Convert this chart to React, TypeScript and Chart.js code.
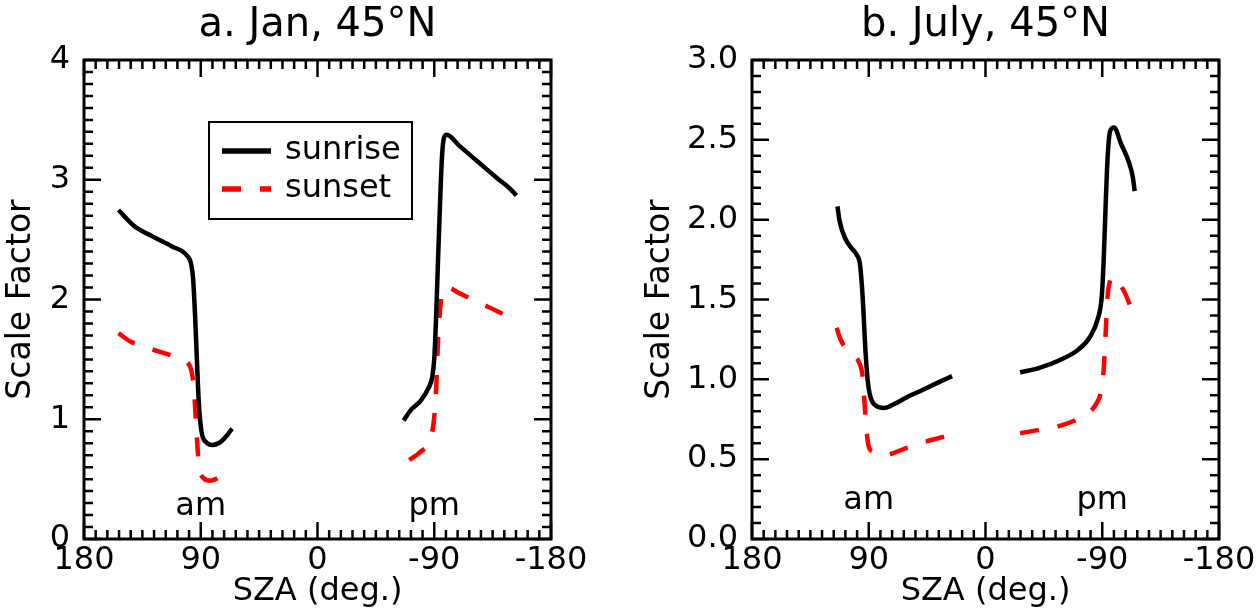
import React, { useEffect, useRef } from "react";
import { Chart, registerables } from "chart.js";

Chart.register(...registerables);

const FONT = "'DejaVu Sans', 'Liberation Sans', sans-serif";

// ---- tick labels ----
const xTickValues = [180, 90, 0, -90, -180];
const xTickLabels = ["180", "90", "0", "-90", "-180"];
const janYTickValues = [0, 1, 2, 3, 4];
const janYTickLabels = ["0", "1", "2", "3", "4"];
const julYTickValues = [0, 0.5, 1, 1.5, 2, 2.5, 3];
const julYTickLabels = ["0.0", "0.5", "1.0", "1.5", "2.0", "2.5", "3.0"];

// ---- a. Jan, 45°N ----
const janSunriseAmSza = [153.4, 141.6, 126.9, 112.1, 100.3, 97.4, 95.9, 94.4, 93.0, 91.5, 89.4, 85.6, 81.2, 75.3, 70.8, 65.8];
const janSunriseAmVal = [2.747, 2.616, 2.525, 2.443, 2.363, 2.297, 2.175, 1.871, 1.506, 1.141, 0.897, 0.806, 0.785, 0.806, 0.852, 0.922];
const janSunrisePmSza = [-66.4, -72.2, -79.6, -85.6, -88.5, -90.0, -91.5, -92.9, -94.4, -95.9, -97.4, -99.7, -109.2, -123.9, -138.7, -147.5, -153.4];
const janSunrisePmVal = [0.989, 1.080, 1.156, 1.262, 1.354, 1.506, 1.871, 2.327, 2.783, 3.179, 3.346, 3.376, 3.285, 3.148, 3.011, 2.935, 2.868];
const janSunsetAmSza = [153.4, 144.6, 126.9, 112.1, 100.3, 97.4, 95.3, 93.6, 91.5, 88.6, 82.6, 75.3, 66.4];
const janSunsetAmVal = [1.719, 1.652, 1.582, 1.530, 1.475, 1.414, 1.262, 0.958, 0.624, 0.517, 0.487, 0.517, 0.578];
const janSunsetPmSza = [-70.8, -79.6, -87.0, -90.0, -91.5, -92.9, -94.4, -96.7, -100.3, -109.2, -126.9, -141.6, -153.4];
const janSunsetPmVal = [0.660, 0.730, 0.837, 1.019, 1.262, 1.658, 1.901, 2.084, 2.099, 2.053, 1.962, 1.886, 1.810];

// ---- b. July, 45°N ----
const julSunriseAmSza = [114.1, 112.6, 108.1, 103.6, 99.2, 96.8, 94.7, 92.5, 90.8, 88.7, 84.2, 78.2, 70.7, 60.2, 48.2, 36.3, 25.8];
const julSunriseAmVal = [2.083, 1.996, 1.882, 1.825, 1.779, 1.722, 1.517, 1.175, 0.992, 0.890, 0.833, 0.821, 0.844, 0.890, 0.935, 0.981, 1.020];
const julSunrisePmSza = [-26.7, -41.6, -56.6, -71.6, -80.6, -86.6, -89.6, -91.1, -92.6, -94.1, -96.1, -99.1, -104.5, -110.5, -113.5, -115.0];
const julSunrisePmVal = [1.043, 1.072, 1.118, 1.186, 1.266, 1.380, 1.517, 1.745, 2.087, 2.384, 2.555, 2.578, 2.475, 2.361, 2.270, 2.179];
const julSunsetAmSza = [114.7, 112.6, 108.1, 102.1, 97.6, 94.7, 93.1, 91.6, 90.1, 87.1, 78.2, 63.2, 48.2, 36.3, 25.8];
const julSunsetAmVal = [1.323, 1.266, 1.198, 1.152, 1.107, 1.015, 0.833, 0.673, 0.582, 0.548, 0.525, 0.563, 0.605, 0.632, 0.655];
const julSunsetPmSza = [-26.7, -41.6, -56.6, -71.6, -80.6, -86.0, -89.0, -91.1, -92.6, -94.1, -96.1, -98.5, -101.5, -107.5, -112.0, -115.0];
const julSunsetPmVal = [0.662, 0.684, 0.707, 0.753, 0.798, 0.855, 0.924, 1.061, 1.289, 1.517, 1.620, 1.643, 1.620, 1.540, 1.449, 1.380];

const seriesNames = ["sunrise", "sunset"];
const amPmLabels = ["am", "pm"];
const amPmSza = [90, -90];

function joinSegments(aX: number[], aY: number[], bX: number[], bY: number[]) {
  const pts: { x: number; y: number | null }[] = [];
  aX.forEach((x, i) => pts.push({ x, y: aY[i] }));
  pts.push({ x: 0, y: null });
  bX.forEach((x, i) => pts.push({ x, y: bY[i] }));
  return pts;
}

const framePlugin = {
  id: "frameTicks",
  afterDatasetsDraw(chart: any, _args: any, opts: any) {
    const { ctx, chartArea: a, scales } = chart;
    const xs = scales.x;
    const ys = scales.y;
    ctx.save();
    ctx.strokeStyle = "#000";
    ctx.lineWidth = 2.5;
    ctx.beginPath();
    for (let i = 0; i <= 40; i++) {
      const v = -180 + i * 9;
      const px = xs.getPixelForValue(v);
      const len = v % 90 === 0 ? 17 : 9;
      ctx.moveTo(px, a.bottom);
      ctx.lineTo(px, a.bottom - len);
      ctx.moveTo(px, a.top);
      ctx.lineTo(px, a.top + len);
    }
    const yMax = opts.yMax as number;
    const major = opts.yMajor as number;
    const n = Math.round(yMax / 0.1);
    for (let i = 0; i <= n; i++) {
      const v = i * 0.1;
      const py = ys.getPixelForValue(v);
      const r = v / major;
      const len = Math.abs(r - Math.round(r)) < 1e-6 ? 17 : 9;
      ctx.moveTo(a.left, py);
      ctx.lineTo(a.left + len, py);
      ctx.moveTo(a.right, py);
      ctx.lineTo(a.right - len, py);
    }
    ctx.stroke();
    ctx.lineWidth = 3;
    ctx.strokeRect(a.left, a.top, a.width, a.height);

    // am / pm labels
    ctx.fillStyle = "#000";
    ctx.font = "32px " + FONT;
    ctx.textAlign = "center";
    ctx.textBaseline = "alphabetic";
    amPmLabels.forEach((t, i) => {
      ctx.fillText(t, xs.getPixelForValue(amPmSza[i]), ys.getPixelForValue(opts.amPmY));
    });

    // legend
    if (opts.legend) {
      const L = opts.legend;
      const bx = a.left + L.dx;
      const by = a.top + L.dy;
      ctx.lineWidth = 2;
      ctx.strokeRect(bx, by, L.w, L.h);
      chart.data.datasets.forEach((ds: any, i: number) => {
        const cy = by + 29 + i * 38;
        ctx.save();
        ctx.strokeStyle = ds.borderColor;
        ctx.lineWidth = 5.5;
        ctx.setLineDash(ds.borderDash || []);
        ctx.beginPath();
        ctx.moveTo(bx + 13, cy);
        ctx.lineTo(bx + 62, cy);
        ctx.stroke();
        ctx.restore();
        ctx.fillStyle = "#000";
        ctx.textAlign = "left";
        ctx.textBaseline = "middle";
        ctx.fillText(ds.label, bx + 76, cy);
      });
    }
    ctx.restore();
  },
};

function makeConfig(p: {
  title: string;
  sunrise: any[];
  sunset: any[];
  yMax: number;
  yMajor: number;
  yTicks: number[];
  yLabels: string[];
  yWidth: number;
  yTitlePad: number;
  rightPad: number;
  amPmY: number;
  legend: any;
}) {
  return {
    type: "line" as const,
    data: {
      datasets: [
        {
          label: seriesNames[0],
          data: p.sunrise,
          borderColor: "#000000",
          borderWidth: 4.5,
          pointRadius: 0,
          fill: false,
          cubicInterpolationMode: "monotone" as const,
          spanGaps: false,
        },
        {
          label: seriesNames[1],
          data: p.sunset,
          borderColor: "#ff0000",
          borderWidth: 4.5,
          borderDash: [19, 19],
          pointRadius: 0,
          fill: false,
          cubicInterpolationMode: "monotone" as const,
          spanGaps: false,
        },
      ],
    },
    options: {
      responsive: false,
      animation: false as const,
      devicePixelRatio: 1,
      layout: { padding: { left: 0, top: 0, bottom: 0, right: p.rightPad } },
      plugins: {
        legend: { display: false },
        tooltip: { enabled: false },
        title: {
          display: true,
          text: p.title,
          fullSize: false,
          color: "#000",
          font: { family: FONT, size: 40, weight: "normal" as const, lineHeight: 1.2 },
          padding: { top: 2, bottom: 10 },
        },
        frameTicks: { yMax: p.yMax, yMajor: p.yMajor, amPmY: p.amPmY, legend: p.legend },
      },
      scales: {
        x: {
          type: "linear" as const,
          position: "bottom" as const,
          min: -180,
          max: 180,
          reverse: true,
          grid: { display: false, drawTicks: false },
          border: { display: false },
          afterBuildTicks: (s: any) => {
            s.ticks = xTickValues.map((v) => ({ value: v }));
          },
          afterFit: (s: any) => {
            s.height = 74;
          },
          ticks: {
            autoSkip: false,
            maxRotation: 0,
            padding: 2,
            color: "#000",
            font: { family: FONT, size: 32 },
            callback: (v: any) => xTickLabels[xTickValues.indexOf(Number(v))] ?? "",
          },
          title: {
            display: true,
            text: "SZA (deg.)",
            color: "#000",
            font: { family: FONT, size: 32, lineHeight: 1.2 },
            padding: { top: 0, bottom: 2 },
          },
        },
        y: {
          type: "linear" as const,
          position: "left" as const,
          min: 0,
          max: p.yMax,
          grid: { display: false, drawTicks: false },
          border: { display: false },
          afterBuildTicks: (s: any) => {
            s.ticks = p.yTicks.map((v) => ({ value: v }));
          },
          afterFit: (s: any) => {
            s.width = p.yWidth;
          },
          ticks: {
            autoSkip: false,
            padding: 14,
            color: "#000",
            font: { family: FONT, size: 32 },
            callback: (v: any) => {
              const idx = p.yTicks.findIndex((t) => Math.abs(t - Number(v)) < 1e-9);
              return idx >= 0 ? p.yLabels[idx] : "";
            },
          },
          title: {
            display: true,
            text: "Scale Factor",
            color: "#000",
            font: { family: FONT, size: 33, lineHeight: 1.2 },
            padding: { top: p.yTitlePad, bottom: 0 },
          },
        },
      },
    },
    plugins: [framePlugin],
  };
}

function Panel(props: { left: number; width: number; cfg: any }) {
  const ref = useRef<HTMLCanvasElement | null>(null);
  useEffect(() => {
    if (!ref.current) return;
    const chart = new Chart(ref.current, props.cfg);
    return () => chart.destroy();
  }, []);
  return (
    <canvas
      ref={ref}
      width={props.width}
      height={613}
      style={{ position: "absolute", left: props.left, top: 0, width: props.width, height: 613, display: "block" }}
    />
  );
}

export default function App() {
  const janCfg = makeConfig({
    title: "a. Jan, 45°N",
    sunrise: joinSegments(janSunriseAmSza, janSunriseAmVal, janSunrisePmSza, janSunrisePmVal),
    sunset: joinSegments(janSunsetAmSza, janSunsetAmVal, janSunsetPmSza, janSunsetPmVal),
    yMax: 4,
    yMajor: 1,
    yTicks: janYTickValues,
    yLabels: janYTickLabels,
    yWidth: 84,
    yTitlePad: 2,
    rightPad: 78,
    amPmY: 0.2,
    legend: { dx: 125, dy: 62, w: 203, h: 97 },
  });
  const julCfg = makeConfig({
    title: "b. July, 45°N",
    sunrise: joinSegments(julSunriseAmSza, julSunriseAmVal, julSunrisePmSza, julSunrisePmVal),
    sunset: joinSegments(julSunsetAmSza, julSunsetAmVal, julSunsetPmSza, julSunsetPmVal),
    yMax: 3,
    yMajor: 0.5,
    yTicks: julYTickValues,
    yLabels: julYTickLabels,
    yWidth: 123,
    yTitlePad: 12,
    rightPad: 40,
    amPmY: 0.19,
    legend: null,
  });
  return (
    <div style={{ position: "fixed", left: 0, top: 0, width: 1259, height: 613, background: "#fff" }}>
      <Panel left={0} width={629} cfg={janCfg} />
      <Panel left={629} width={630} cfg={julCfg} />
    </div>
  );
}
